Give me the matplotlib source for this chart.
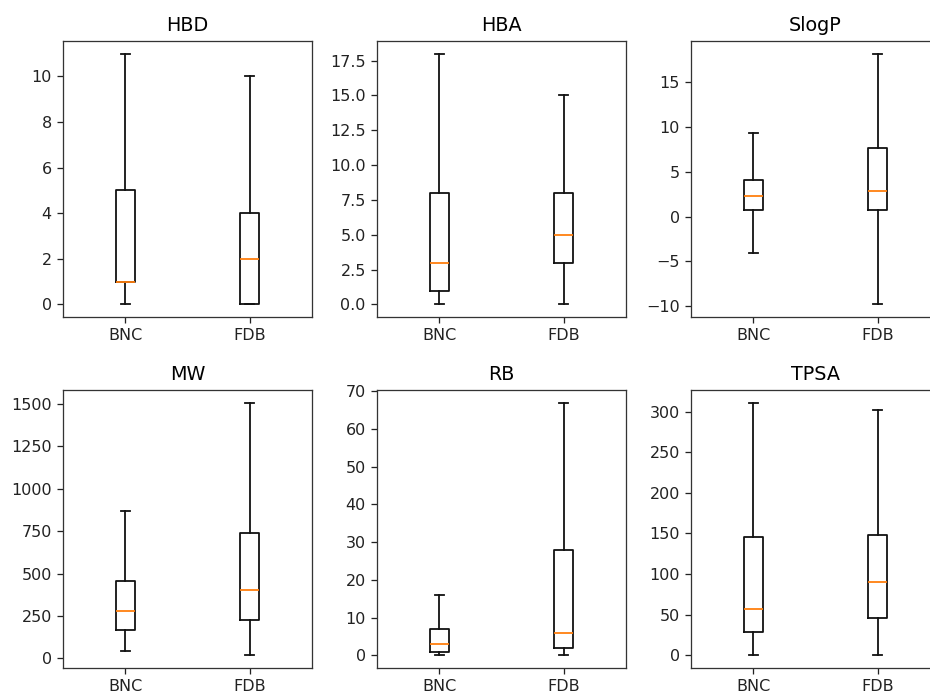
import matplotlib
matplotlib.use("Agg")
import matplotlib.pyplot as plt
from matplotlib.ticker import MultipleLocator

titles = ["HBD", "HBA", "SlogP", "MW", "RB", "TPSA"]
groups = ["BNC", "FDB"]

# each: [min, q1, median, q3, max]
HBD_BNC = [0, 1, 1, 5, 11]
HBD_FDB = [0, 0, 2, 4, 10]
HBA_BNC = [0, 1, 3, 8, 18]
HBA_FDB = [0, 3, 5, 8, 15]
SlogP_BNC = [-4.1, 0.7, 2.3, 4.1, 9.3]
SlogP_FDB = [-9.8, 0.7, 2.85, 7.7, 18.2]
MW_BNC = [45, 166, 282, 458, 868]
MW_FDB = [18, 225, 403, 740, 1507]
RB_BNC = [0, 1, 3, 7, 16]
RB_FDB = [0, 2, 6, 28, 67]
TPSA_BNC = [0, 29, 57, 146, 311]
TPSA_FDB = [0, 46.5, 90.5, 148.5, 302.5]

data = {
    "HBD": [HBD_BNC, HBD_FDB],
    "HBA": [HBA_BNC, HBA_FDB],
    "SlogP": [SlogP_BNC, SlogP_FDB],
    "MW": [MW_BNC, MW_FDB],
    "RB": [RB_BNC, RB_FDB],
    "TPSA": [TPSA_BNC, TPSA_FDB],
}
tick_steps = {"HBD": 2, "HBA": 2.5, "SlogP": 5, "MW": 250, "RB": 10, "TPSA": 50}

s = 1.15
plt.rcParams.update({
    "axes.linewidth": 0.8 * s,
    "xtick.major.width": 0.8 * s,
    "ytick.major.width": 0.8 * s,
    "xtick.major.size": 3.5 * s,
    "ytick.major.size": 3.5 * s,
    "xtick.major.pad": 3.5 * s,
    "ytick.major.pad": 3.5 * s,
    "axes.edgecolor": "#333333",
})

W, H = 930, 694
fig = plt.figure(figsize=(W / 100, H / 100), dpi=100)

lefts = [63, 377, 691]
widths = 249
rows = [(41, 317), (390, 668)]

lw = 1.3
for i, t in enumerate(titles):
    r, c = divmod(i, 3)
    top, bot = rows[r]
    ax = fig.add_axes([lefts[c] / W, 1 - bot / H, widths / W, (bot - top) / H])
    stats = []
    for g, v in zip(groups, data[t]):
        stats.append(dict(label=g, whislo=v[0], q1=v[1], med=v[2], q3=v[3], whishi=v[4], fliers=[]))
    ax.bxp(stats, showfliers=False,
           boxprops=dict(linewidth=lw, color="#111111"),
           whiskerprops=dict(linewidth=lw, color="#111111"),
           capprops=dict(linewidth=lw, color="#111111"),
           medianprops=dict(linewidth=lw, color="#ff7f0e"))
    ax.yaxis.set_major_locator(MultipleLocator(tick_steps[t]))
    ax.set_title(t, fontsize=13.8, pad=6 * s)
    ax.tick_params(labelsize=11.5, colors="#222222")

fig.savefig("out.png", dpi=100)
